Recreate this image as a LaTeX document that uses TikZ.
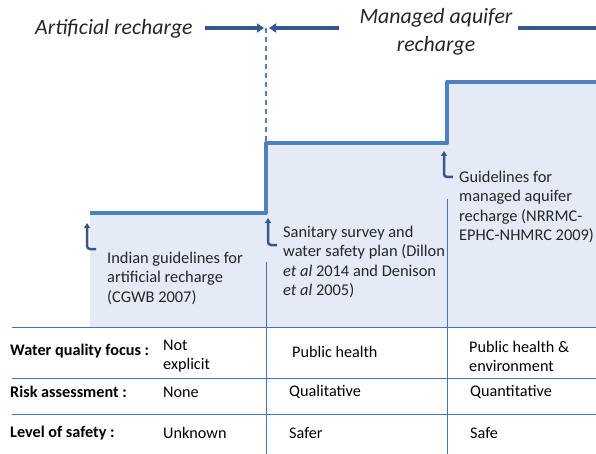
\documentclass[tikz,border=0pt]{standalone}
\usepackage{fontspec}
\setmainfont{Carlito}
\usetikzlibrary{arrows.meta, positioning}
\definecolor{stepblue}{RGB}{79,129,189}
\definecolor{fillblue}{RGB}{228,234,246}
\definecolor{arrowblue}{RGB}{56,87,140}
\definecolor{gridblue}{RGB}{68,114,196}
\definecolor{textgray}{RGB}{38,38,38}

\begin{document}
\begin{tikzpicture}[x=1pt, y=-1pt,
    title/.style={font=\fontsize{21.8}{27.5}\selectfont\itshape, text=textgray, inner sep=0pt, align=center},
    guide/.style={font=\fontsize{16.4}{19.3}\selectfont, text=textgray, inner sep=0pt, align=left, anchor=north west},
    cell/.style={font=\fontsize{16.2}{19}\selectfont, text=black, inner sep=0pt, align=left, anchor=west},
    rowlabel/.style={cell, font=\fontsize{16.2}{19}\selectfont\bfseries},
    arrow/.style={arrowblue, line width=4pt, -{Triangle[length=7pt, width=9pt]}},
    hook/.style={arrowblue, line width=2.5pt, rounded corners=3pt, -{Triangle[length=5pt, width=6pt]}},
    stepline/.style={stepblue, line width=4pt, line join=round},
    grid/.style={gridblue, line width=1pt}]

    \useasboundingbox (0,0) rectangle (596,454);

    % staircase
    \fill[fillblue] (90,213) -- (266,213) -- (266,143) -- (447,143) -- (447,82) -- (596,82) -- (596,327) -- (90,327) -- cycle;
    \draw[stepline] (90,213) -- (266,213) -- (266,143) -- (447,143) -- (447,82) -- (596,82);

    % headings
    \node[title, anchor=west] (ar) at (35,29) {Artificial recharge};
    \node[title] (mar) at (436,32) {Managed aquifer\\recharge};
    \coordinate (split) at (266,28);
    \coordinate (step2) at (266,143);
    \coordinate (rightedge) at (596,28);

    \draw[stepblue, line width=1.3pt, dash pattern=on 5pt off 4pt] (split) -- (step2);
    \draw[arrow] ([xshift=12pt]ar.east |- split) -- ([xshift=-2pt]split);
    \draw[arrow] ([xshift=-20pt]mar.west |- split) -- ([xshift=3pt]split);
    \draw[arrowblue, line width=4pt] ([xshift=5pt]mar.east |- split) -- (rightedge);

    % guidelines
    \node[guide] (indian) at (107,252) {Indian guidelines for\\artificial recharge\\(CGWB 2007)};
    \node[guide] (sanitary) at (283,226) {Sanitary survey and\\water safety plan (Dillon\\\textit{et al} 2014 and Denison\\\textit{et al} 2005)};
    \node[guide] (marguide) at (459,171) {Guidelines for\\managed aquifer\\recharge (NRRMC-\\EPHC-NHMRC 2009)};

    \coordinate (tail1) at (96,249);
    \coordinate (tip1) at (87,223);
    \coordinate (tail2) at (277,245);
    \coordinate (tip2) at (268,218);
    \coordinate (tail3) at (453,177);
    \coordinate (tip3) at (444,151);
    \draw[hook] (tail1) -| (tip1);
    \draw[hook] (tail2) -| (tip2);
    \draw[hook] (tail3) -| (tip3);

    % table
    \draw[grid] (12,327) -- (596,327);
    \draw[grid] (12,378) -- (596,378);
    \draw[grid] (12,414) -- (596,414);
    \draw[grid] (266,262) -- (266,454);
    \draw[grid] (447,199) -- (447,454);

    \node[rowlabel] (focus) at (10,351) {Water quality focus :};
    \node[rowlabel] (risk) at (10,392) {Risk assessment :};
    \node[rowlabel] (safety) at (10,433) {Level of safety :};

    \node[cell] (focus1) at (163,356.5) {Not\\explicit};
    \node[cell] (focus2) at (292,352) {Public health};
    \node[cell] (focus3) at (469,356.5) {Public health \&\\environment};
    \node[cell] (risk1) at (163,392) {None};
    \node[cell] (risk2) at (289,392) {Qualitative};
    \node[cell] (risk3) at (470,392) {Quantitative};
    \node[cell] (safety1) at (163,433) {Unknown};
    \node[cell] (safety2) at (289,433) {Safer};
    \node[cell] (safety3) at (470,433) {Safe};
\end{tikzpicture}
\end{document}
